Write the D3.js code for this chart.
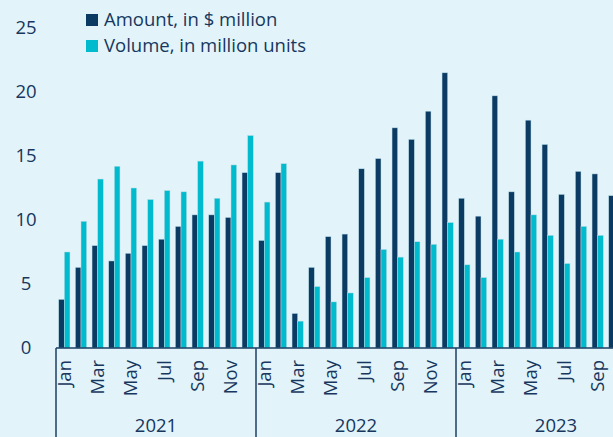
<!DOCTYPE html>
<html>
<head>
<meta charset="utf-8">
<script src="https://cdn.jsdelivr.net/npm/d3@7"></script>
<style>
  body { margin: 0; background: #e2f4f9; }
  svg { display: block; font-family: "Open Sans", Lato, sans-serif; }
</style>
</head>
<body>
<svg id="chart"></svg>
<script>
const width = 613;
const height = 437;

const years = ["2021", "2022", "2023"];
const monthNames = ["Jan", "Feb", "Mar", "Apr", "May", "Jun", "Jul", "Aug", "Sep", "Oct", "Nov", "Dec"];
// months shown: Jan 2021 - Oct 2023 (the chart is cut off on the right)
const amount = [
  3.8, 6.3, 8.0, 6.8, 7.4, 8.0, 8.5, 9.5, 10.4, 10.4, 10.2, 13.7,
  8.4, 13.7, 2.7, 6.3, 8.7, 8.9, 14.0, 14.8, 17.2, 16.3, 18.5, 21.5,
  11.7, 10.3, 19.7, 12.2, 17.8, 15.9, 12.0, 13.8, 13.6, 11.9
];
const volume = [
  7.5, 9.9, 13.2, 14.2, 12.5, 11.6, 12.3, 12.2, 14.6, 11.7, 14.3, 16.6,
  11.4, 14.4, 2.1, 4.8, 3.6, 4.3, 5.5, 7.7, 7.1, 8.3, 8.1, 9.8,
  6.5, 5.5, 8.5, 7.5, 10.4, 8.8, 6.6, 9.5, 8.8, 8.0
];
const yTicks = [0, 5, 10, 15, 20, 25];
const seriesNames = ["Amount, in $ million", "Volume, in million units"];
const colors = ["#0b3a63", "#00bacd"];

const months = amount.map((d, i) => ({
  key: i,
  year: years[Math.floor(i / 12)],
  month: monthNames[i % 12],
  values: [amount[i], volume[i]]
}));

const margin = { left: 56, top: 28, bottom: 89 };
const step = 200 / 12;
const fontSize = "18.5px";
const textColor = "#17375e";

const svg = d3.select("#chart")
  .attr("width", width)
  .attr("height", height);

const x = d3.scaleBand()
  .domain(months.map(d => d.key))
  .range([margin.left, margin.left + step * months.length])
  .padding(0);

const x1 = d3.scaleBand()
  .domain([0, 1])
  .range([0, x.bandwidth()])
  .paddingInner(0)
  .paddingOuter(0.48);

const y = d3.scaleLinear()
  .domain([0, 25])
  .range([height - margin.bottom, margin.top]);

// y labels
svg.append("g")
  .selectAll("text")
  .data(yTicks)
  .enter().append("text")
  .attr("x", 26)
  .attr("y", d => y(d))
  .attr("dy", "0.35em")
  .attr("text-anchor", "middle")
  .attr("fill", textColor)
  .style("font-size", fontSize)
  .text(d => d);

// bars
const groups = svg.append("g")
  .selectAll("g")
  .data(months)
  .enter().append("g")
  .attr("transform", d => "translate(" + x(d.key) + ",0)");

groups.selectAll("rect")
  .data(d => d.values)
  .enter().append("rect")
  .attr("x", (d, i) => x1(i))
  .attr("width", x1.bandwidth())
  .attr("y", d => y(d))
  .attr("height", d => y(0) - y(d))
  .attr("fill", (d, i) => colors[i])
  .attr("stroke", "#b9dde8")
  .attr("stroke-width", 0.5);

// axis line
const axisColor = "#1b3f63";
svg.append("line")
  .attr("x1", margin.left).attr("x2", width)
  .attr("y1", y(0)).attr("y2", y(0))
  .attr("stroke", axisColor).attr("stroke-width", 1.5);

// month labels (odd months only)
svg.append("g")
  .selectAll("text")
  .data(months.filter((d, i) => i % 2 === 0))
  .enter().append("text")
  .attr("transform", d => "translate(" + (x(d.key) + x.bandwidth() / 2) + "," + (y(0) + 12) + ") rotate(-90)")
  .attr("dy", "0.35em")
  .attr("text-anchor", "end")
  .attr("fill", textColor)
  .style("font-size", fontSize)
  .text(d => d.month);

// year separators and labels
years.forEach((yr, j) => {
  const x0 = x(j * 12);
  svg.append("line")
    .attr("x1", x0).attr("x2", x0)
    .attr("y1", y(0)).attr("y2", height)
    .attr("stroke", axisColor).attr("stroke-width", 1.5);
  svg.append("text")
    .attr("x", x0 + step * 6)
    .attr("y", 432)
    .attr("text-anchor", "middle")
    .attr("fill", textColor)
    .style("font-size", fontSize)
    .text(yr);
});

// legend
const legend = svg.append("g")
  .selectAll("g")
  .data(seriesNames)
  .enter().append("g")
  .attr("transform", (d, i) => "translate(86," + (14 + i * 26) + ")");

legend.append("rect")
  .attr("width", 12).attr("height", 12)
  .attr("fill", (d, i) => colors[i]);

legend.append("text")
  .attr("x", 18).attr("y", 6)
  .attr("dy", "0.35em")
  .attr("fill", textColor)
  .style("font-size", fontSize)
  .text(d => d);
</script>
</body>
</html>
